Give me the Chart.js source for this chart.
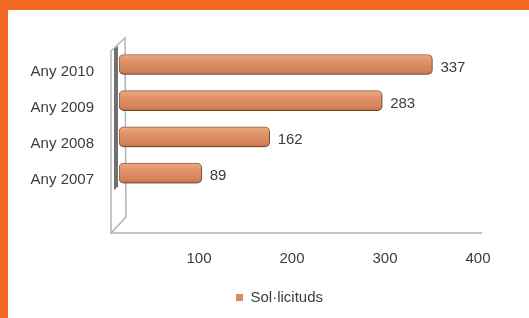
<!DOCTYPE html>
<html><head><meta charset="utf-8">
<script src="https://cdn.jsdelivr.net/npm/chart.js@4"></script>
<style>
html,body{margin:0;padding:0;background:#fff;overflow:hidden;}
#frame{position:absolute;left:0;top:0;width:529px;height:318px;background:#F26A21;}
#inner{position:absolute;left:8px;top:10px;width:521px;height:308px;background:#fff;}
canvas{display:block}
</style></head><body>
<div id="frame"><div id="inner"><canvas id="c" width="521" height="308"></canvas></div></div>
<script>
const categories = ['Any 2010', 'Any 2009', 'Any 2008', 'Any 2007'];
const values = [337, 283, 162, 89];
const xTicks = [100, 200, 300, 400];
const seriesName = 'Sol·licituds';

const FONT = "'Liberation Sans', Arial, sans-serif";
const TEXT = '#3c3c3c';

const wallPlugin = {
  id: 'wall',
  beforeDatasetsDraw(chart) {
    const {ctx, chartArea, scales} = chart;
    const x0 = scales.x.getPixelForValue(0);
    const top = chartArea.top, bottom = chartArea.bottom;
    ctx.save();
    // side wall
    ctx.beginPath();
    ctx.moveTo(x0 - 8, top + 13);
    ctx.lineTo(x0 + 6, top);
    ctx.lineTo(x0 + 7, bottom - 16);
    ctx.lineTo(x0 - 8, bottom);
    ctx.closePath();
    ctx.fillStyle = '#ffffff';
    ctx.fill();
    ctx.strokeStyle = '#b4b4b4';
    ctx.lineWidth = 1.5;
    ctx.stroke();
    // floor front edge
    ctx.beginPath();
    ctx.moveTo(x0 - 8, bottom);
    ctx.lineTo(scales.x.getPixelForValue(400) - 9, bottom);
    ctx.strokeStyle = '#b0b0b0';
    ctx.lineWidth = 1.5;
    ctx.stroke();
    // dark shadow strip on wall
    const yEnd = scales.y.getPixelForValue(categories.length - 1) + 17;
    ctx.beginPath();
    ctx.moveTo(x0 - 5, top + 11);
    ctx.lineTo(x0 - 1, top + 8);
    ctx.lineTo(x0 - 1, yEnd - 4);
    ctx.lineTo(x0 - 5, yEnd);
    ctx.closePath();
    ctx.fillStyle = '#6f7072';
    ctx.fill();
    ctx.restore();
    // shadow for bars
    ctx.save();
    ctx.shadowColor = 'rgba(0,0,0,0.35)';
    ctx.shadowBlur = 3;
    ctx.shadowOffsetX = 1;
    ctx.shadowOffsetY = 2;
  },
  afterDatasetsDraw(chart) {
    const {ctx} = chart;
    ctx.restore();
    const meta = chart.getDatasetMeta(0);
    ctx.save();
    ctx.font = '15px ' + FONT;
    ctx.fillStyle = TEXT;
    ctx.textAlign = 'left';
    ctx.textBaseline = 'middle';
    meta.data.forEach((bar, i) => {
      ctx.fillText(String(values[i]), bar.x + 8, bar.y + 3);
    });
    ctx.restore();
  }
};

new Chart(document.getElementById('c'), {
  type: 'bar',
  data: {
    datasets: [{
      label: seriesName,
      data: values.map((v, i) => ({x: v, y: i})),
      barThickness: 20,
      borderWidth: 1,
      borderColor: '#9f5e3c',
      borderRadius: 5,
      borderSkipped: false,
      backgroundColor: (c) => {
        const chart = c.chart;
        const ys = chart.scales && chart.scales.y;
        if (!ys || c.dataIndex === undefined) return '#DA8A5F';
        const yc = ys.getPixelForValue(c.dataIndex);
        const g = chart.ctx.createLinearGradient(0, yc - 10, 0, yc + 10);
        g.addColorStop(0, '#EBAA86');
        g.addColorStop(0.35, '#E09169');
        g.addColorStop(0.8, '#D4845A');
        g.addColorStop(1, '#BF7049');
        return g;
      }
    }]
  },
  options: {
    indexAxis: 'y',
    responsive: false,
    animation: false,
    events: [],
    layout: {padding: {left: 22, right: 0, top: 28, bottom: 3}},
    scales: {
      x: {
        type: 'linear',
        min: 0, max: 440.9,
        offset: false,
        grid: {display: false, drawTicks: false},
        border: {display: false},
        afterBuildTicks: (s) => { s.ticks = xTicks.map(v => ({value: v})); },
        afterFit: (s) => { s.height = 47; s.paddingLeft = 0; s.paddingRight = 0; },
        ticks: {
          padding: 17,
          labelOffset: -13,
          maxRotation: 0,
          font: {size: 15, family: FONT},
          color: TEXT
        }
      },
      y: {
        type: 'linear',
        reverse: true,
        offset: false,
        min: -0.73, max: 4.65,
        grid: {display: false, drawTicks: false},
        border: {display: false},
        afterBuildTicks: (s) => { s.ticks = categories.map((c, i) => ({value: i})); },
        afterFit: (s) => { s.width = 89; s.paddingTop = 0; s.paddingBottom = 0; },
        ticks: {
          padding: 25,
          labelOffset: 7,
          callback: (v) => categories[v] !== undefined ? categories[v] : '',
          font: {size: 15, family: FONT},
          color: TEXT
        }
      }
    },
    plugins: {
      tooltip: {enabled: false},
      legend: {
        position: 'bottom',
        labels: {
          boxWidth: 7, boxHeight: 7,
          padding: 10,
          font: {size: 15, family: FONT},
          color: TEXT,
          generateLabels: () => [{
            text: seriesName, fillStyle: '#D98A60', strokeStyle: '#D98A60',
            lineWidth: 0, hidden: false, datasetIndex: 0, fontColor: TEXT
          }]
        }
      }
    }
  },
  plugins: [wallPlugin]
});
</script>
</body></html>
